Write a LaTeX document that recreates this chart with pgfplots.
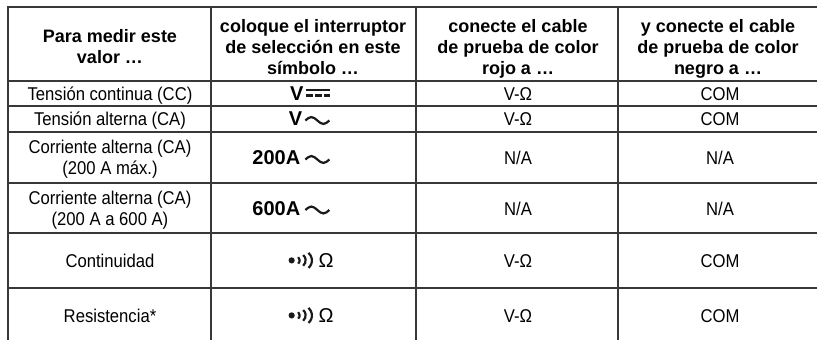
\documentclass[border=0pt]{standalone}
\usepackage{pgfplots}
\pgfplotsset{compat=1.18}
\usepackage{graphicx}
\usepackage{fontspec}
\setmainfont{Liberation Sans}
\newfontfamily\bodyfont[FakeStretch=0.9]{Liberation Sans}
\definecolor{rulec}{HTML}{383838}
\definecolor{txt}{HTML}{1A1A1A}
\tikzset{
  hd/.style={anchor=base, font=\fontsize{18}{21}\selectfont\bfseries},
  bd/.style={anchor=base, font=\bodyfont\fontsize{18.5}{21}\selectfont},
  sy/.style={anchor=base east, font=\fontsize{20}{21}\selectfont\bfseries},
}
\newsavebox\tildebox
\newsavebox\dcbox
\newsavebox\contbox
\begin{document}
\sbox\tildebox{\tikz[baseline=0pt]\draw[line width=2.2pt,txt] (0,5pt) sin (6pt,8.4pt) cos (12pt,5pt) sin (18pt,1.6pt) cos (24pt,5pt);}%
\sbox\dcbox{\tikz[baseline=0pt]{\fill[txt] (0,8.6pt) rectangle (24pt,11.2pt);
 \fill[txt] (0,3.2pt) rectangle (6.4pt,5.8pt);
 \fill[txt] (8.8pt,3.2pt) rectangle (15.2pt,5.8pt);
 \fill[txt] (17.6pt,3.2pt) rectangle (24pt,5.8pt);}}%
\sbox\contbox{\tikz[baseline=0pt]{\fill[txt] (0,6.6pt) circle (3.1pt);
 \draw[txt,line width=2.2pt] ([shift={(3.8pt,6.6pt)}]-50:4.2pt) arc (-50:50:4.2pt);
 \draw[txt,line width=2.2pt] ([shift={(7pt,6.6pt)}]-50:7pt) arc (-50:50:7pt);
 \draw[txt,line width=2.2pt] ([shift={(10.5pt,6.6pt)}]-50:9.8pt) arc (-50:50:9.8pt);}}%
\begin{tikzpicture}
\begin{axis}[
  at={(0pt,0pt)}, anchor=south west,
  scale only axis, width=817pt, height=340pt,
  xmin=0, xmax=817, ymin=0, ymax=340, y dir=reverse,
  hide axis, clip=false,
  every node/.append style={text=txt, inner sep=0pt},
]
% table rules
\addplot[rulec, line width=1.5pt] coordinates {(8,7) (817,7)};
\addplot[rulec, line width=1.5pt] coordinates {(8,81) (817,81)};
\addplot[rulec, line width=1.5pt] coordinates {(8,106) (817,106)};
\addplot[rulec, line width=1.5pt] coordinates {(8,132) (817,132)};
\addplot[rulec, line width=1.5pt] coordinates {(8,183) (817,183)};
\addplot[rulec, line width=1.5pt] coordinates {(8,233) (817,233)};
\addplot[rulec, line width=1.5pt] coordinates {(8,288) (817,288)};
\addplot[rulec, line width=2.6pt] coordinates {(8,6.25) (8,340)};
\addplot[rulec, line width=1.5pt] coordinates {(211,7) (211,340)};
\addplot[rulec, line width=1.5pt] coordinates {(416,7) (416,340)};
\addplot[rulec, line width=1.5pt] coordinates {(618,7) (618,340)};
% header
\node[hd] at (axis cs:110,42) {Para medir este};
\node[hd] at (axis cs:110,63) {valor …};
\node[hd] at (axis cs:313,32) {coloque el interruptor};
\node[hd] at (axis cs:313,53) {de selección en este};
\node[hd] at (axis cs:313,74) {símbolo …};
\node[hd] at (axis cs:518,32) {conecte el cable};
\node[hd] at (axis cs:518,53) {de prueba de color};
\node[hd] at (axis cs:518,74) {rojo a …};
\node[hd] at (axis cs:718,32) {y conecte el cable};
\node[hd] at (axis cs:718,53) {de prueba de color};
\node[hd] at (axis cs:718,74) {negro a …};
% row 1
\node[bd] at (axis cs:110,100) {Tensión continua (CC)};
\node[sy] at (axis cs:334,100) {V\hspace{3pt}\usebox\dcbox};
\node[bd] at (axis cs:518,100) {V-Ω};
\node[bd] at (axis cs:720,100) {COM};
% row 2
\node[bd] at (axis cs:110,125.5) {Tensión alterna (CA)};
\node[sy] at (axis cs:334,125.5) {V\hspace{2pt}\usebox\tildebox};
\node[bd] at (axis cs:518,125.5) {V-Ω};
\node[bd] at (axis cs:720,125.5) {COM};
% row 3
\node[bd] at (axis cs:110,153.5) {Corriente alterna (CA)};
\node[bd] at (axis cs:110,174.5) {(200 A máx.)};
\node[sy] at (axis cs:334,164.5) {200A\hspace{4pt}\usebox\tildebox};
\node[bd] at (axis cs:518,164.5) {N/A};
\node[bd] at (axis cs:720,164.5) {N/A};
% row 4
\node[bd] at (axis cs:110,204) {Corriente alterna (CA)};
\node[bd] at (axis cs:110,225) {(200 A a 600 A)};
\node[sy] at (axis cs:334,215) {600A\hspace{4pt}\usebox\tildebox};
\node[bd] at (axis cs:518,215) {N/A};
\node[bd] at (axis cs:720,215) {N/A};
% row 5
\node[bd] at (axis cs:110,267) {Continuidad};
\node[sy] at (axis cs:337,267) {\usebox\contbox\hspace{5pt}\mdseries Ω};
\node[bd] at (axis cs:518,267) {V-Ω};
\node[bd] at (axis cs:720,267) {COM};
% row 6
\node[bd] at (axis cs:110,322) {Resistencia*};
\node[sy] at (axis cs:337,322) {\usebox\contbox\hspace{5pt}\mdseries Ω};
\node[bd] at (axis cs:518,322) {V-Ω};
\node[bd] at (axis cs:720,322) {COM};
\end{axis}
\pgfresetboundingbox
\useasboundingbox (0pt,0pt) rectangle (817pt,340pt);
\end{tikzpicture}
\end{document}
